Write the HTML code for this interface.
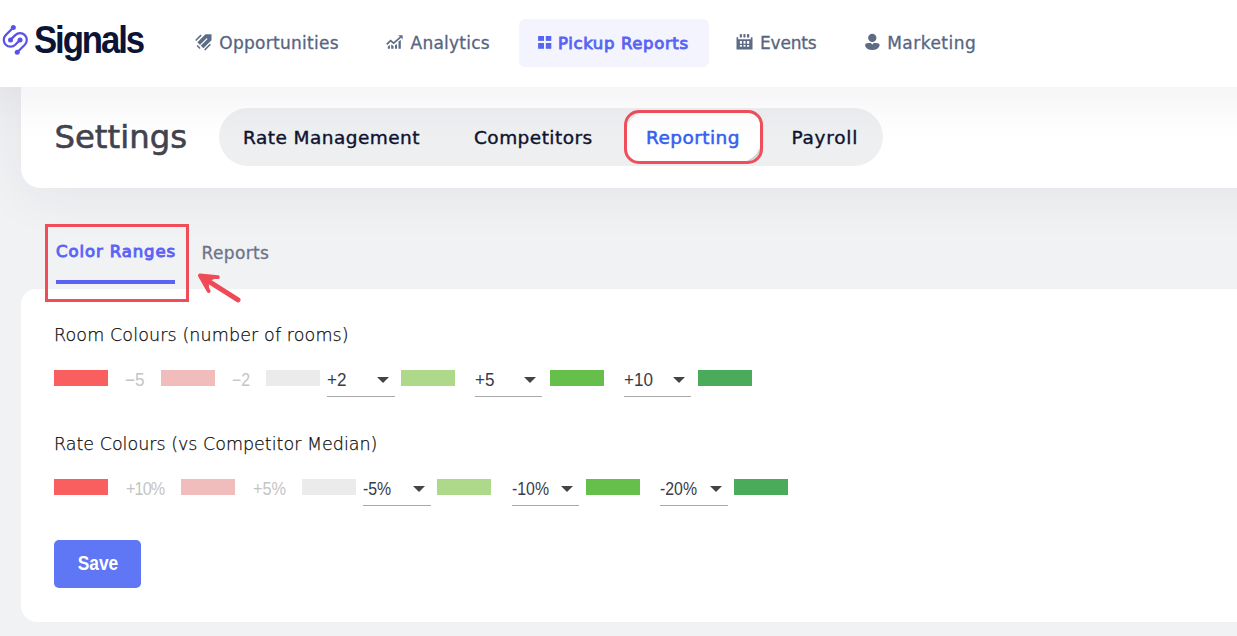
<!DOCTYPE html>
<html lang="en">
<head>
<meta charset="utf-8">
<title>Signals – Settings – Reporting</title>
<style>
*{box-sizing:border-box;margin:0;padding:0}
html,body{width:1237px;height:636px;overflow:hidden}
body{position:relative;background:#f1f2f4;font-family:"DejaVu Sans","Liberation Sans",sans-serif;color:#181c32}
.abs{position:absolute;white-space:nowrap;line-height:1}
/* ---------- top navigation ---------- */
#nav-bg{position:absolute;left:-100px;top:0;width:1500px;height:87px;background:#fff;z-index:20;box-shadow:0 14px 44px rgba(82,63,105,.075)}
#nav{position:absolute;left:0;top:0;width:1237px;height:87px;z-index:21}
#logo-text{left:33.8px;top:18.5px;font:bold 38px "Liberation Sans",sans-serif;color:#0b1437;letter-spacing:-2.3px;transform:scaleX(.915);transform-origin:0 0}
.nv{font-size:17px;color:#58657f;top:35px;letter-spacing:.3px;-webkit-text-stroke:.3px #58657f}
.nv.on{color:#5865f2;-webkit-text-stroke:.9px #5865f2;letter-spacing:.64px;font-size:16.5px;top:36px}
#pill-on{position:absolute;left:519px;top:19px;width:190px;height:48px;border-radius:6px;background:#f4f4ff}
/* ---------- settings header card ---------- */
#hdr{position:absolute;left:21px;top:87px;width:1300px;height:101px;background:#fff;border-radius:0 0 0 20px;box-shadow:0 3px 56px rgba(40,40,60,.075);z-index:2}
#title{left:54.5px;top:121px;font-size:32.3px;color:#42434e;z-index:6;-webkit-text-stroke:.6px}
#pills{position:absolute;left:219px;top:108px;width:664px;height:58px;border-radius:29px;background:#eeeff1;z-index:6}
.pl{font-size:18.5px;color:#10132f;top:129px;z-index:7;letter-spacing:.45px;-webkit-text-stroke:.4px}
#rep-white{position:absolute;left:626px;top:112px;width:135px;height:50px;border-radius:21px 12px 21px 12px;background:#fff;z-index:7;box-shadow:1px 1px 3px rgba(0,0,0,.2)}
#rep-red{position:absolute;left:624px;top:110px;width:139px;height:54px;border-radius:15px;border:3px solid #ee4f5b;z-index:8}
/* ---------- tabs ---------- */
.tab{font-size:17px;top:243px;z-index:3}
#tab-line{position:absolute;left:56px;top:280px;width:119px;height:4px;background:#5b63f5;z-index:4}
#tab-red{position:absolute;left:45px;top:224px;width:144px;height:78px;border:3px solid #f04d59;z-index:9}
/* ---------- content card ---------- */
#card{position:absolute;left:21px;top:289px;width:1300px;height:333px;background:#fff;border-radius:15px 0 0 16px;z-index:3}
.h{font-family:"DejaVu Sans Light","DejaVu Sans",sans-serif;font-weight:200;font-size:17.5px;color:#0d0d0d;-webkit-text-stroke:.25px;z-index:4}
.sw{position:absolute;width:54px;height:16px;z-index:4}
.lb{font-family:"Liberation Sans",sans-serif;font-size:18px;color:#c4c4c4;z-index:4}
.sel{position:absolute;height:30px;border-bottom:1px solid #a9a9a9;z-index:4;font:17.5px "Liberation Sans",sans-serif;color:#383b4a;white-space:nowrap}
.sel span{position:absolute;left:0;top:3px;line-height:20px;transform-origin:0 50%;transform:scaleX(.975)}
.sel.r2 span{transform:scaleX(.905)}
.sel i{position:absolute;right:6px;top:10px;width:0;height:0;border-left:6px solid transparent;border-right:6px solid transparent;border-top:6px solid #444}
#save{position:absolute;left:54px;top:540px;width:87px;height:48px;border-radius:5px;background:#5f76f5;color:#fff;font:bold 20.5px "Liberation Sans",sans-serif;text-align:center;line-height:46px;z-index:4}
#save span{display:inline-block;transform:scaleX(.845)}
</style>
</head>
<body>

<div id="nav-bg"></div>
<div id="nav">
  <div id="pill-on"></div>
  <svg id="nav-icons" width="1237" height="87" viewBox="0 0 1237 87" style="position:absolute;left:0;top:0">
    <!-- logo mark -->
    <g fill="none" stroke="#5a52e8" stroke-width="2.2" stroke-linecap="round" stroke-linejoin="round">
      <path d="M13.32,27.52 L5.72,35.12 A6.76 6.76 0 0 0 15.28,44.68 L20.06,39.90"/>
      <path d="M17.24,52.28 L24.84,44.68 A6.76 6.76 0 0 0 15.28,35.12 L10.50,39.90"/>
    </g>
    <g fill="#5a52e8">
      <circle cx="13.32" cy="27.52" r="2.5"/><circle cx="17.24" cy="52.28" r="2.5"/>
      <circle cx="10.5" cy="39.9" r="2.5"/><circle cx="20.06" cy="39.9" r="2.5"/>
    </g>
    <!-- opportunities: rocket -->
    <g fill="#5d6b85" stroke="none">
      <polygon points="205.5,34.2 211.5,34.2 211.5,40.2 203.4,48.3 197.4,42.3"/>
    </g>
    <g fill="none" stroke="#fff" stroke-width="1.1"><path d="M200.0,45.7 L207.2,38.5"/></g>
    <g fill="none" stroke="#5d6b85" stroke-width="1.5">
      <path d="M195.7,40.5 L201.1,35.1"/><path d="M204.7,49.9 L210.4,44.2"/><path d="M197.05,45.45 L200.15,48.55"/>
    </g>
    <!-- analytics: chart -->
    <g fill="none" stroke="#5d6b85" stroke-width="1.7" stroke-linejoin="miter">
      <path d="M386.7,44.3 L390.6,40.6 L393.6,43.2 L400.6,37.2"/>
    </g>
    <g fill="#5d6b85">
      <polygon points="398.2,35.2 402.6,35.2 402.6,39.2"/>
      <polygon points="387.8,46.4 389.9,45.1 389.9,48.7 387.8,48.7"/>
      <polygon points="391.2,44.6 393.5,45.9 393.5,48.7 391.2,48.7"/>
      <polygon points="395.0,45.3 397.0,44.0 397.0,48.7 395.0,48.7"/>
      <polygon points="398.5,41.4 400.8,40.0 400.8,48.7 398.5,48.7"/>
    </g>
    <!-- pickup reports: grid -->
    <g fill="#5865f2">
      <rect x="538.1" y="36" width="5.9" height="4.9"/><rect x="545.8" y="36" width="5.5" height="4.9"/>
      <rect x="538.1" y="43" width="5.9" height="5.8"/><rect x="545.8" y="43" width="5.5" height="5.8"/>
    </g>
    <!-- events: calendar -->
    <g fill="#5d6b85">
      <path fill-rule="evenodd" d="M736.5,37.2 H738.2 V39.2 H750.8 V37.2 H752.5 V49.6 H736.5 Z
        M739.9,41.1 H741.9 V43.8 H739.9 Z M743.5,41.1 H745.5 V43.8 H743.5 Z M747.0,41.1 H749.2 V43.8 H747.0 Z
        M739.9,45.1 H741.9 V46.8 H739.9 Z M743.5,45.1 H745.5 V46.8 H743.5 Z M747.0,45.1 H749.2 V46.8 H747.0 Z"/>
      <rect x="739.8" y="34.1" width="2.1" height="3.4"/><rect x="743.4" y="34.1" width="2.1" height="3.4"/><rect x="747.0" y="34.1" width="2.2" height="3.4"/>
    </g>
    <!-- marketing: user -->
    <g fill="#5d6b85">
      <circle cx="872.3" cy="37.9" r="4.15"/>
      <path d="M865,45.4 Q865.3,43 868.6,43 L870.8,43 L872.3,44.5 L873.8,43 L876,43 Q879.4,43 879.7,45.4 C878.6,48.4 876,49.9 872.3,49.9 C868.6,49.9 866,48.4 865,45.4 Z"/>
    </g>
  </svg>
  <div id="logo-text" class="abs">Signals</div>
  <div class="abs nv" style="left:219.3px;letter-spacing:.28px">Opportunities</div>
  <div class="abs nv" style="left:410.6px;letter-spacing:.22px">Analytics</div>
  <div class="abs nv on" style="left:558px">Pickup Reports</div>
  <div class="abs nv" style="left:760px;letter-spacing:-.2px">Events</div>
  <div class="abs nv" style="left:887.2px;letter-spacing:.48px">Marketing</div>
</div>

<div id="hdr"></div>
<div id="title" class="abs">Settings</div>
<div id="pills"></div>
<div class="abs pl" style="left:243px">Rate Management</div>
<div class="abs pl" style="left:474px">Competitors</div>
<div id="rep-white"></div>
<div class="abs pl" style="left:646px;color:#3560f0;-webkit-text-stroke:.55px;z-index:9">Reporting</div>
<div id="rep-red"></div>
<div class="abs pl" style="left:791.5px;letter-spacing:.73px">Payroll</div>

<div class="abs tab" style="left:56px;top:244px;color:#5b63f5;-webkit-text-stroke:.95px;letter-spacing:.9px;font-size:16.5px">Color Ranges</div>
<div class="abs tab" style="left:201.6px;top:245px;color:#6c7289;letter-spacing:.35px;-webkit-text-stroke:.3px">Reports</div>
<div id="tab-line"></div>
<div id="tab-red"></div>

<svg id="arrow" width="80" height="60" viewBox="185 255 80 60" style="position:absolute;left:185px;top:255px;z-index:10">
  <g fill="#ef4b56" stroke="#ef4b56" stroke-linecap="round" stroke-linejoin="round">
    <path d="M217.9,277.2 L199.9,275.5 L208.7,291.1" stroke-width="3.8" fill="none"/>
    <polygon points="199.9,275.5 217.9,277.2 211,279.8 208.3,283.9 208.7,291.1" stroke-width="1"/>
    <path d="M205.3,279.2 L238,299.8" stroke-width="5" fill="none"/>
  </g>
</svg>
<div id="card"></div>

<div class="abs h" style="left:54px;top:327px;letter-spacing:.12px">Room Colours (number of rooms)</div>
<div class="sw" style="left:54px;top:370px;background:#fa5f5f"></div>
<div class="abs lb" style="left:125px;top:371px;transform-origin:0 0;transform:scaleX(.95)">−5</div>
<div class="sw" style="left:161px;top:370px;background:#f0bcbc"></div>
<div class="abs lb" style="left:232px;top:371px;transform-origin:0 0;transform:scaleX(.88)">−2</div>
<div class="sw" style="left:266px;top:370px;background:#ebebeb"></div>
<div class="sel" style="left:327px;top:367px;width:68px"><span>+2</span><i></i></div>
<div class="sw" style="left:401px;top:370px;background:#aed88a"></div>
<div class="sel" style="left:475px;top:367px;width:67px"><span>+5</span><i></i></div>
<div class="sw" style="left:550px;top:370px;background:#66bf4b"></div>
<div class="sel" style="left:624px;top:367px;width:67px"><span>+10</span><i></i></div>
<div class="sw" style="left:698px;top:370px;background:#4aab5a"></div>

<div class="abs h" style="left:54px;top:436px">Rate Colours (vs Competitor Median)</div>
<div class="sw" style="left:54px;top:479px;background:#fa5f5f"></div>
<div class="abs lb" style="left:126px;top:480px;letter-spacing:-1px;transform-origin:0 0;transform:scaleX(.9)">+10%</div>
<div class="sw" style="left:181px;top:479px;background:#f0bcbc"></div>
<div class="abs lb" style="left:252.6px;top:480px;transform-origin:0 0;transform:scaleX(.905)">+5%</div>
<div class="sw" style="left:302px;top:479px;background:#ebebeb"></div>
<div class="sel r2" style="left:363px;top:476px;width:68px"><span>-5%</span><i></i></div>
<div class="sw" style="left:437px;top:479px;background:#aed88a"></div>
<div class="sel r2" style="left:512px;top:476px;width:67px"><span>-10%</span><i></i></div>
<div class="sw" style="left:586px;top:479px;background:#66bf4b"></div>
<div class="sel r2" style="left:660px;top:476px;width:68px"><span>-20%</span><i></i></div>
<div class="sw" style="left:734px;top:479px;background:#4aab5a"></div>

<div id="save"><span>Save</span></div>

</body>
</html>
